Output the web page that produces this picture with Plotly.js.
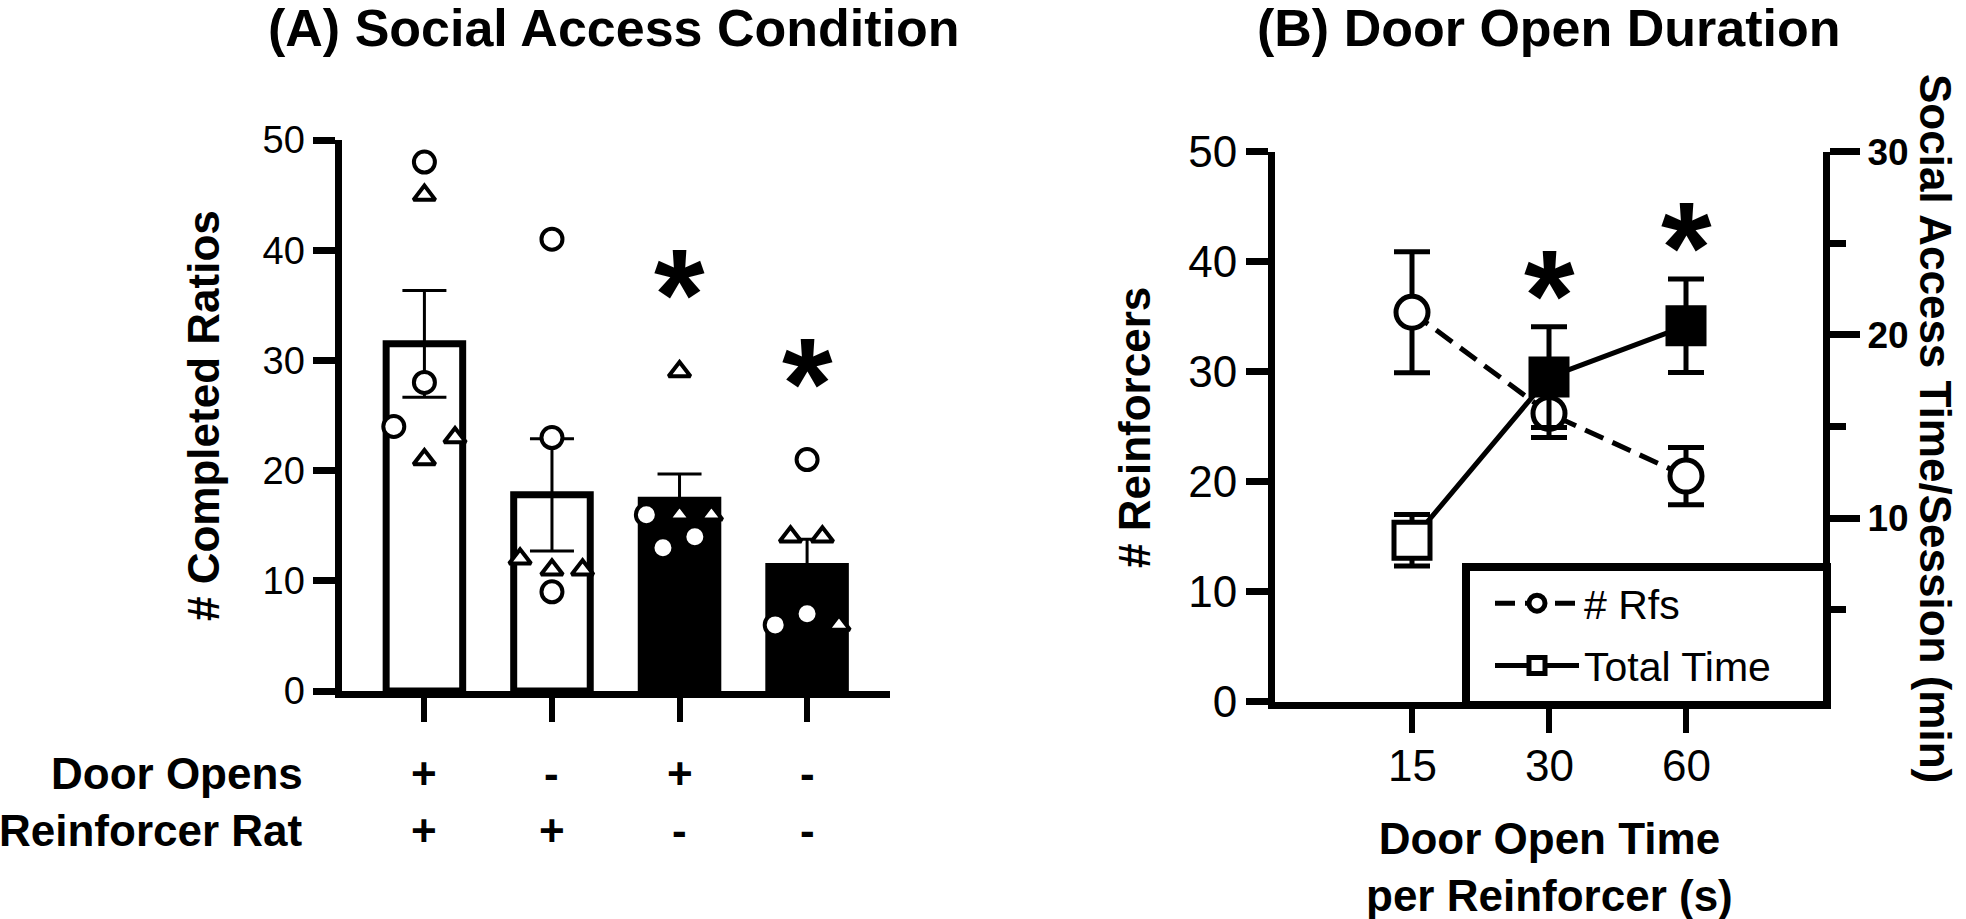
<!DOCTYPE html>
<html><head><meta charset="utf-8">
<script src="https://cdn.plot.ly/plotly-3.0.1.min.js"></script>
<style>html,body{margin:0;padding:0;background:#fff;}</style>
</head><body><div id="chart" style="width:1966px;height:919px;"></div>
<script>
// ---------- Panel A data ----------
const conditionIds = [0, 1, 2, 3];
const doorOpens = ['+', '-', '+', '-'];
const reinforcerRat = ['+', '+', '-', '-'];
const rowLabels = ['Door Opens', 'Reinforcer Rat'];
const barMeans = [31.5, 17.8, 17.3, 11.3];
const barSem = [4.85, 5.1, 2.4, 2.47];
const circleVals = [[48, 28, 24], [41, 23, 9], [16, 13, 14], [21, 6, 7]];
const triangleVals = [[45, 21, 23], [12, 11, 11], [29, 16, 16], [14, 14, 6]];
const sigA = ['', '', '*', '*'];

// ---------- Panel B data ----------
const doorTimes = ['15', '30', '60'];
const rfsMean = [35.4, 26.2, 20.5];
const rfsSem = [5.5, 2.2, 2.6];
const timeMean = [8.8, 17.7, 20.5];
const timeSem = [1.4, 2.75, 2.55];
const sigB = ['', '*', '*'];

// ---------- styling / layout helpers ----------
const W = 1966, H = 919;
const px = v => v / W;
const py = v => 1 - v / H;
const FONT = 'Liberation Sans, Arial, Helvetica, sans-serif';
const circleOffsets = [[0, 0, -0.24], [0, 0, 0], [-0.26, -0.13, 0.12], [0, -0.25, 0]];
const triangleOffsets = [[0, 0, 0.24], [-0.25, 0, 0.24], [0, 0, 0.25], [-0.13, 0.12, 0.25]];
const barFill = ['white', 'white', 'black', 'black'];
const timeFill = ['white', 'black', 'black'];

function spread(vals, offs) {
  const xs = [], ys = [];
  vals.forEach((g, i) => g.forEach((v, j) => { xs.push(conditionIds[i] + offs[i][j]); ys.push(v); }));
  return {x: xs, y: ys};
}
const circ = spread(circleVals, circleOffsets);
const tri = spread(triangleVals, triangleOffsets);

const traces = [
  {type: 'bar', x: conditionIds, y: barMeans, width: 0.6, xaxis: 'x', yaxis: 'y',
   marker: {color: barFill, line: {color: 'black', width: 7}},
   error_y: {type: 'data', array: barSem, visible: true, color: 'black', thickness: 3, width: 22},
   showlegend: false},
  {type: 'scatter', mode: 'markers', x: circ.x, y: circ.y, xaxis: 'x', yaxis: 'y',
   marker: {symbol: 'circle', size: 21, color: 'white', line: {color: 'black', width: 4}},
   showlegend: false, cliponaxis: false},
  {type: 'scatter', mode: 'markers', x: tri.x, y: tri.y, xaxis: 'x', yaxis: 'y',
   marker: {symbol: 'triangle-up', size: 19, color: 'white', line: {color: 'black', width: 4}},
   showlegend: false, cliponaxis: false},
  {type: 'scatter', mode: 'lines+markers', name: 'Total Time', x: doorTimes, y: timeMean,
   xaxis: 'x2', yaxis: 'y3', legendrank: 2, legendgroup: 'b',
   line: {color: 'black', width: 5},
   marker: {symbol: 'square', size: 36, color: timeFill, line: {color: 'black', width: 5}},
   error_y: {type: 'data', array: timeSem, visible: true, color: 'black', thickness: 5, width: 18},
   cliponaxis: false},
  {type: 'scatter', mode: 'lines+markers', name: '# Rfs', x: doorTimes, y: rfsMean,
   xaxis: 'x2', yaxis: 'y2', legendrank: 1, legendgroup: 'a',
   line: {color: 'black', width: 5, dash: '20px,10px'},
   marker: {symbol: 'circle', size: 32, color: 'white', line: {color: 'black', width: 5}},
   error_y: {type: 'data', array: rfsSem, visible: true, color: 'black', thickness: 5, width: 18},
   cliponaxis: false}
];

const bold = (size) => ({family: FONT, size: size, weight: 700, color: 'black'});
const plain = (size) => ({family: FONT, size: size, color: 'black'});
const note = (o) => Object.assign({showarrow: false, xanchor: 'center', yanchor: 'middle'}, o);

const annotations = [
  note({text: '(A) Social Access Condition', xref: 'paper', yref: 'paper', x: px(614), y: py(28), font: bold(52)}),
  note({text: '(B) Door Open Duration', xref: 'paper', yref: 'paper', x: px(1549), y: py(28), font: bold(52)}),
  note({text: rowLabels[0], xref: 'paper', yref: 'paper', x: px(305), y: py(773), xanchor: 'right', font: bold(44)}),
  note({text: rowLabels[1], xref: 'paper', yref: 'paper', x: px(305), y: py(830), xanchor: 'right', font: bold(44)}),
  note({text: '# Completed Ratios', xref: 'paper', yref: 'paper', x: px(203), y: py(416), textangle: -90, font: bold(44)}),
  note({text: '# Reinforcers', xref: 'paper', yref: 'paper', x: px(1134), y: py(428), textangle: -90, font: bold(44)}),
  note({text: 'Door Open Time<br>per Reinforcer (s)', xref: 'paper', yref: 'paper', x: px(1549), y: py(867), font: bold(44)}),
  note({text: 'Social Access Time/Session (min)', xref: 'paper', yref: 'paper', x: px(1936), y: py(428), textangle: 90, font: bold(44)})
];
// category tick labels of panel A (two rows) and panel B
conditionIds.forEach(i => {
  annotations.push(note({text: doorOpens[i], xref: 'x', yref: 'paper', x: i, y: py(773), font: bold(44)}));
  annotations.push(note({text: reinforcerRat[i], xref: 'x', yref: 'paper', x: i, y: py(830), font: bold(44)}));
});
doorTimes.forEach((t, i) => {
  annotations.push(note({text: t, xref: 'x2', yref: 'paper', x: i, y: py(765), font: plain(44)}));
});
// significance stars
sigA.forEach((s, i) => {
  if (!s) return;
  const top = Math.max(...circleVals[i], ...triangleVals[i]);
  annotations.push(note({text: s, xref: 'x', yref: 'y', x: conditionIds[i], y: top, yanchor: 'bottom',
    yshift: 1, font: bold(130)}));
});
sigB.forEach((s, i) => {
  if (!s) return;
  annotations.push(note({text: s, xref: 'x2', yref: 'y3', x: i, y: timeMean[i] + timeSem[i], yanchor: 'bottom',
    yshift: -44, font: bold(130)}));
});

const axBase = {showline: true, linecolor: 'black', linewidth: 7, ticks: 'outside', tickcolor: 'black',
  tickwidth: 7, showgrid: false, zeroline: false, fixedrange: true};

const layout = {
  width: W, height: H, autosize: false,
  margin: {l: 0, r: 0, t: 0, b: 0, pad: 0},
  paper_bgcolor: 'white', plot_bgcolor: 'rgba(0,0,0,0)',
  font: {family: FONT, color: 'black'},
  showlegend: true,
  legend: {x: px(1490), y: py(570), xanchor: 'left', yanchor: 'top', bgcolor: 'rgba(0,0,0,0)',
    borderwidth: 0, font: plain(41), itemwidth: 84, traceorder: 'grouped', tracegroupgap: 6},
  xaxis: Object.assign({}, axBase, {domain: [px(341.5), px(890)], range: [-0.65, 3.65], anchor: 'y',
    tickmode: 'array', tickvals: conditionIds, showticklabels: false, ticklen: 24, tickwidth: 6}),
  yaxis: Object.assign({}, axBase, {domain: [py(691), py(140)], range: [0, 50], anchor: 'x',
    tickmode: 'linear', tick0: 0, dtick: 10, ticklen: 22, tickfont: plain(38)}),
  xaxis2: Object.assign({}, axBase, {domain: [px(1275), px(1823)], type: 'category', range: [-1, 3], anchor: 'y2',
    showticklabels: false, ticklen: 24, tickwidth: 6}),
  yaxis2: Object.assign({}, axBase, {domain: [py(701.5), py(151.7)], range: [0, 50], anchor: 'x2',
    tickmode: 'linear', tick0: 0, dtick: 10, ticklen: 22, tickfont: plain(44)}),
  yaxis3: Object.assign({}, axBase, {overlaying: 'y2', side: 'right', anchor: 'x2', range: [0, 30],
    tickmode: 'array', tickvals: [10, 20, 30], ticklen: 30,
    minor: {tickmode: 'array', tickvals: [5, 15, 25], ticks: 'outside', ticklen: 16, tickwidth: 7, tickcolor: 'black'},
    tickfont: bold(37)}),
  shapes: [
    {type: 'rect', xref: 'paper', yref: 'paper', x0: px(1466), x1: px(1827), y0: py(705), y1: py(567),
     line: {color: 'black', width: 8}, fillcolor: 'rgba(0,0,0,0)', layer: 'above'}
  ],
  annotations: annotations
};

Plotly.newPlot('chart', traces, layout, {staticPlot: true, displayModeBar: false});
</script>
</body></html>
